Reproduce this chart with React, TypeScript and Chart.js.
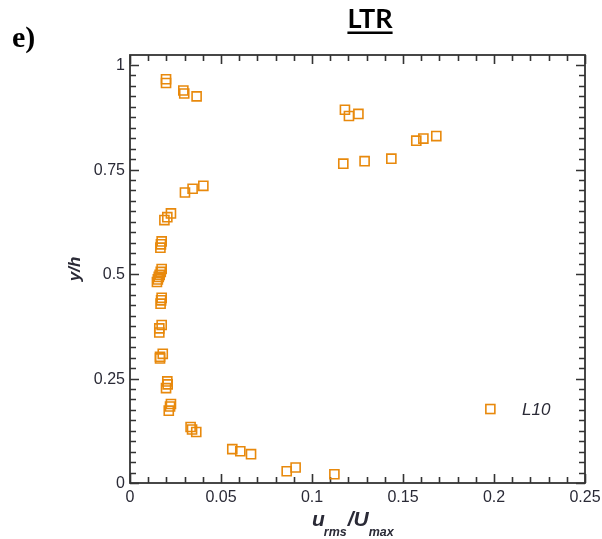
import React, { useEffect, useRef } from "react";
import { Chart, registerables } from "chart.js";

Chart.register(...registerables);

// ---- data ----
const seriesLabel = "L10";
const chartTitle = "LTR";
const panelLabel = "e)";

const xValues = [
  0.0198, 0.0198, 0.0293, 0.0298, 0.0366,
  0.1181, 0.1203, 0.1255,
  0.1573, 0.1612, 0.1683,
  0.1172, 0.1289, 0.1436,
  0.0302, 0.0344, 0.0403,
  0.0225, 0.0205, 0.0189,
  0.0174, 0.0170, 0.0167,
  0.0174, 0.0169, 0.0163, 0.0158, 0.0153, 0.0148,
  0.0174, 0.0171, 0.0168,
  0.0174, 0.0161, 0.0161,
  0.0180, 0.0165, 0.0165,
  0.0205, 0.0207, 0.0198,
  0.0225, 0.0220, 0.0213,
  0.0333, 0.0341, 0.0364,
  0.0562, 0.0606, 0.0665,
  0.0861, 0.0910, 0.1123,
];
const yValues = [
  0.966, 0.957, 0.939, 0.932, 0.925,
  0.893, 0.878, 0.883,
  0.819, 0.824, 0.830,
  0.764, 0.770, 0.776,
  0.695, 0.704, 0.711,
  0.645, 0.636, 0.629,
  0.578, 0.571, 0.563,
  0.512, 0.505, 0.498, 0.493, 0.487, 0.481,
  0.443, 0.437, 0.429,
  0.378, 0.370, 0.360,
  0.309, 0.302, 0.298,
  0.243, 0.236, 0.227,
  0.189, 0.183, 0.173,
  0.134, 0.128, 0.122,
  0.081, 0.076, 0.069,
  0.028, 0.037, 0.021,
];

const xTicks = [0, 0.05, 0.1, 0.15, 0.2, 0.25];
const xTickLabels = ["0", "0.05", "0.1", "0.15", "0.2", "0.25"];
const yTicks = [0, 0.25, 0.5, 0.75, 1];
const yTickLabels = ["0", "0.25", "0.5", "0.75", "1"];
const xMinorStep = 0.01;
const yMinorStep = 0.025;

const ORANGE = "#E8890C";
const AXIS = "#333333";
const TEXT = "#2a2a36";

const framePlugin = {
  id: "frame",
  beforeDatasetsDraw(chart: any) {
    const { ctx, chartArea } = chart;
    const { left, right, top, bottom } = chartArea;
    const xs = chart.scales.x;
    const ys = chart.scales.y;
    ctx.save();
    ctx.strokeStyle = AXIS;
    ctx.lineWidth = 1.6;
    const nx = Math.round(0.25 / xMinorStep);
    for (let i = 0; i <= nx; i++) {
      const v = i * xMinorStep;
      const major = i % 5 === 0;
      const len = major ? 9 : 6;
      const px = Math.round(xs.getPixelForValue(v)) + 0.5;
      ctx.beginPath();
      ctx.moveTo(px, bottom);
      ctx.lineTo(px, bottom - len);
      ctx.moveTo(px, top);
      ctx.lineTo(px, top + len);
      ctx.stroke();
    }
    const ny = Math.round(1 / yMinorStep);
    for (let i = 0; i <= ny; i++) {
      const v = i * yMinorStep;
      const major = i % 10 === 0;
      const len = major ? 9 : 6;
      const py = Math.round(ys.getPixelForValue(v)) + 0.5;
      ctx.beginPath();
      ctx.moveTo(left, py);
      ctx.lineTo(left + len, py);
      ctx.moveTo(right, py);
      ctx.lineTo(right - len, py);
      ctx.stroke();
    }
    ctx.lineWidth = 1.8;
    ctx.strokeRect(left, top, right - left, bottom - top);
    ctx.restore();
  },
  afterDraw(chart: any) {
    const { ctx, chartArea } = chart;
    const { left, bottom } = chartArea;
    const xs = chart.scales.x;
    const ys = chart.scales.y;
    ctx.save();
    ctx.fillStyle = TEXT;
    // tick labels
    ctx.font = "16px 'Liberation Sans', Arial, sans-serif";
    ctx.textAlign = "center";
    ctx.textBaseline = "middle";
    xTicks.forEach((v, i) => {
      ctx.fillText(xTickLabels[i], xs.getPixelForValue(v), bottom + 15);
    });
    ctx.textAlign = "right";
    yTicks.forEach((v, i) => {
      ctx.fillText(yTickLabels[i], left - 5, ys.getPixelForValue(v) + 1);
    });

    // x axis title: u_rms / U_max
    ctx.textAlign = "left";
    ctx.textBaseline = "alphabetic";
    const big = "bold italic 21px 'Liberation Sans', Arial, sans-serif";
    const small = "bold italic 12.5px 'Liberation Sans', Arial, sans-serif";
    let cx = 312;
    const base = 526;
    ctx.font = big;
    ctx.fillText("u", cx, base);
    cx += ctx.measureText("u").width - 1;
    ctx.font = small;
    ctx.fillText("rms", cx, base + 10);
    cx += ctx.measureText("rms").width + 1;
    ctx.font = big;
    ctx.fillText("/U", cx, base);
    cx += ctx.measureText("/U").width;
    ctx.font = small;
    ctx.fillText("max", cx, base + 10);

    // y axis title
    ctx.save();
    ctx.translate(75, 269);
    ctx.rotate(-Math.PI / 2);
    ctx.font = "bold italic 17px 'Liberation Sans', Arial, sans-serif";
    ctx.textAlign = "center";
    ctx.textBaseline = "middle";
    ctx.fillText("y/h", 0, 0);
    ctx.restore();

    // legend inside plot
    const lx = xs.getPixelForValue(0.198);
    const ly = ys.getPixelForValue(0.177);
    ctx.strokeStyle = ORANGE;
    ctx.lineWidth = 1.6;
    ctx.strokeRect(lx - 4.5, ly - 4.5, 9, 9);
    ctx.fillStyle = TEXT;
    ctx.font = "italic 17px 'Liberation Sans', Arial, sans-serif";
    ctx.textAlign = "left";
    ctx.textBaseline = "middle";
    ctx.fillText(seriesLabel, 522, ly + 1);

    // title
    ctx.fillStyle = "#000";
    ctx.font = "bold 27px Lato, 'Open Sans', sans-serif";
    ctx.textAlign = "center";
    ctx.textBaseline = "alphabetic";
    const tx = 370;
    const tb = 28;
    ctx.fillText(chartTitle, tx, tb);
    const tw = ctx.measureText(chartTitle).width;
    ctx.fillRect(tx - tw / 2, tb + 3.5, tw, 2.5);

    // panel label
    ctx.font = "bold 30px 'Liberation Serif', 'Times New Roman', serif";
    ctx.textAlign = "left";
    ctx.fillText(panelLabel, 12, 47);
    ctx.restore();
  },
};

export default function App() {
  const ref = useRef<HTMLCanvasElement | null>(null);
  useEffect(() => {
    if (!ref.current) return;
    const chart = new Chart(ref.current, {
      type: "scatter",
      data: {
        datasets: [
          {
            label: seriesLabel,
            data: xValues.map((x, i) => ({ x, y: yValues[i] })),
            pointStyle: "rect",
            pointRadius: 6.4,
            pointHoverRadius: 6.4,
            borderColor: ORANGE,
            backgroundColor: "rgba(0,0,0,0)",
            borderWidth: 1.6,
          },
        ],
      },
      options: {
        responsive: false,
        animation: false,
        devicePixelRatio: 1,
        events: [],
        layout: { padding: { left: 130, right: 17, top: 55, bottom: 56 } },
        plugins: {
          legend: { display: false },
          title: { display: false },
          tooltip: { enabled: false },
        },
        scales: {
          x: { type: "linear", min: 0, max: 0.25, display: false },
          y: { type: "linear", min: 0, max: 1.024, display: false },
        },
      },
      plugins: [framePlugin],
    } as any);
    return () => chart.destroy();
  }, []);
  return (
    <div style={{ position: "fixed", left: 0, top: 0, width: 602, height: 539, background: "#fff" }}>
      <canvas ref={ref} width={602} height={539} style={{ display: "block" }} />
    </div>
  );
}
